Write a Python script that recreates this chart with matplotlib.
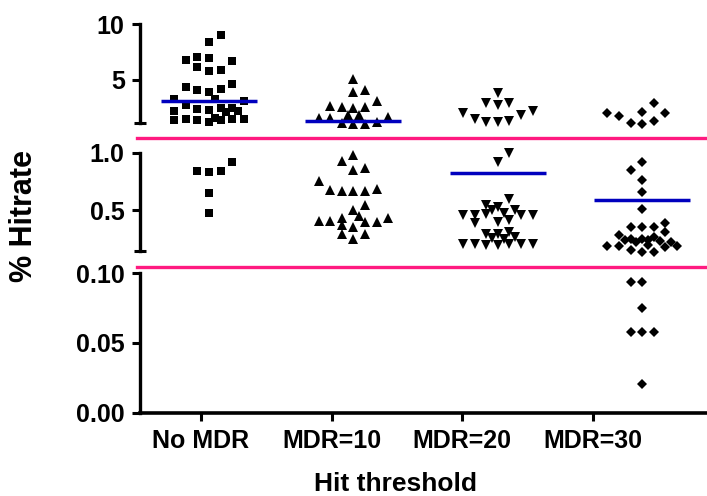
import matplotlib
matplotlib.use("Agg")
import matplotlib.pyplot as plt
from matplotlib.lines import Line2D

plt.rcParams['font.family'] = ['Liberation Sans', 'DejaVu Sans']
plt.rcParams['font.weight'] = 'bold'

# ---------------- data ----------------
categories = ["No MDR", "MDR=10", "MDR=20", "MDR=30"]
x_label = "Hit threshold"
y_label = "% Hitrate"

# values shown in the upper (1-10), middle (0.1-1) and lower (0-0.1) segments
no_mdr_upper = [9.04, 8.44, 6.8, 7.09, 7.0, 6.73, 6.19, 5.83, 5.9, 4.39, 4.1, 3.94, 4.19, 4.6,
                3.26, 3.29, 3.11, 2.24, 2.75, 2.39, 2.3, 2.45, 2.15, 2.45, 2.24,
                1.4, 1.46, 1.4, 1.25, 1.55, 1.4, 1.46, 1.46]
no_mdr_middle = [0.92, 0.843, 0.834, 0.843, 0.646, 0.47]
no_mdr_lower = []

mdr10_upper = [5.06, 3.94, 4.1, 2.66, 2.54, 2.45, 2.6, 3.11, 1.85, 1.85, 1.61, 1.55, 1.64,
               1.1, 1.0, 1.0, 1.25]
mdr10_middle = [0.98, 0.928, 0.85, 0.87, 0.753, 0.675, 0.666, 0.666, 0.666, 0.68, 0.544, 0.5,
                0.448, 0.405, 0.405, 0.433, 0.37, 0.355, 0.398, 0.398, 0.433, 0.289, 0.245, 0.289]
mdr10_lower = []

mdr20_upper = [3.8, 2.9, 2.75, 2.9, 2.0, 1.46, 1.25, 1.25, 1.34, 1.85, 2.21]
mdr20_middle = [1.0, 0.92, 0.596, 0.53, 0.544, 0.457, 0.457, 0.463, 0.5, 0.47, 0.5, 0.457, 0.457,
                0.384, 0.4, 0.413, 0.29, 0.29, 0.31, 0.254, 0.245, 0.268,
                0.204, 0.204, 0.195, 0.195, 0.204, 0.204, 0.204]
mdr20_lower = []

mdr30_upper = [2.96, 2.0, 1.76, 2.15, 2.0, 1.1, 1.04, 1.31]
mdr30_middle = [0.916, 0.85, 0.762, 0.655, 0.509, 0.355, 0.355, 0.355, 0.39, 0.31, 0.282, 0.238,
                0.245, 0.224, 0.245, 0.238, 0.268, 0.23, 0.224, 0.19, 0.19, 0.152, 0.137, 0.195,
                0.137, 0.175, 0.19]
mdr30_lower = [0.0935, 0.0935, 0.0753, 0.0577, 0.0577, 0.0577, 0.0204]

group_means = [3.14, 1.31, 0.82, 0.588]

# horizontal scatter slots (column-scatter layout), one per point above
no_mdr_upper_slot = [1, 0, -2, -1, 0, 2, -1, 0, 1, -2, -1, 0, 1, 2, -3, 0.5, 3, -3, -2, -1, 0, 1, 1.5,
                     2, 2.5, -3, -2, -1, 0, 0.5, 1, 2, 3]
no_mdr_middle_slot = [2, -1, 0, 1, 0, 0]
no_mdr_lower_slot = []
mdr10_upper_slot = [0, 0, 1, -2, -1, 0, 1, 2, -0.5, 0.5, -3, -2, 3, -1, 0, 1, 2]
mdr10_middle_slot = [0, -1, 0, 1, -3, -2, -1, 0, 1, 2, 1, 0, 0.5, -3, -2, -1, -1, 0, 1, 2, 3, -1, 0, 1]
mdr10_lower_slot = []
mdr20_upper_slot = [0, -1, 0, 1, -3, -2, -1, 0, 1, 2, 3]
mdr20_middle_slot = [1, 0, 1, 0, -1, -3, -2, -1, -0.5, 0.5, 1.5, 2, 3, -2, 0, 1, -1, 0, 1, -0.5, 0.5,
                     1.5, -3, -2, -1, 0, 1, 2, 3]
mdr20_lower_slot = []
mdr30_upper_slot = [1, -3, -2, 0, 2, -1, 0, 1]
mdr30_middle_slot = [0, -1, 0, 0, 0, -1, 0, 1, 2, 2, -2, -1.5, -1, -0.5, 0, 0.5, 1, 1.5, 2.5, -3, -2,
                     -1, 0, 0.5, 1, 2, 3]
mdr30_lower_slot = [-1, 0, 0, -1, 0, 1, 0]

groups = [
    (no_mdr_upper, no_mdr_middle, no_mdr_lower, no_mdr_upper_slot, no_mdr_middle_slot, no_mdr_lower_slot, 's', 6.1),
    (mdr10_upper, mdr10_middle, mdr10_lower, mdr10_upper_slot, mdr10_middle_slot, mdr10_lower_slot, '^', 7.2),
    (mdr20_upper, mdr20_middle, mdr20_lower, mdr20_upper_slot, mdr20_middle_slot, mdr20_lower_slot, 'v', 7.2),
    (mdr30_upper, mdr30_middle, mdr30_lower, mdr30_upper_slot, mdr30_middle_slot, mdr30_lower_slot, 'D', 5.4),
]

# ---------------- layout ----------------
W, H = 707, 496
fig = plt.figure(figsize=(W / 100, H / 100), dpi=100)

def fx(px):
    return px / W

def fy(py):
    return 1 - py / H

left, right = 140, 707
seg_px = [(24.3, 123.3), (152.7, 250.7), (273.3, 412.7)]
seg_lim = [(1.1, 10.0), (0.1456, 1.0), (0.0, 0.10)]
seg_ticks = [([5, 10], ["5", "10"]), ([0.5, 1.0], ["0.5", "1.0"]), ([0.0, 0.05, 0.10], ["0.00", "0.05", "0.10"])]

slot_w = 11.6 / 144.4          # slot spacing in x data units
xlim = ((left - 209) / 144.4, (right - 209) / 144.4)
tick_pos = [(201 - 209) / 144.4, (332 - 209) / 144.4, (462 - 209) / 144.4, (593 - 209) / 144.4]
half_mean = 48 / 144.4

axes = []
for (top, bot), lim, (tv, tl) in zip(seg_px, seg_lim, seg_ticks):
    ax = fig.add_axes([fx(left), fy(bot), fx(right - left), (bot - top) / H])
    ax.set_xlim(*xlim)
    ax.set_ylim(*lim)
    ax.patch.set_alpha(0)
    for s in ['top', 'right', 'bottom']:
        ax.spines[s].set_visible(False)
    ax.spines['left'].set_linewidth(2.4)
    ax.set_yticks(tv)
    ax.set_yticklabels(tl, fontsize=18, fontweight='bold')
    ax.tick_params(axis='y', direction='out', length=6, width=2.2, pad=5)
    ax.set_yticks([lim[0], lim[1]], minor=True)
    ax.tick_params(axis='y', which='minor', direction='inout', length=9, width=2.2)
    ax.set_xticks([])
    axes.append(ax)

ax_bot = axes[2]
ax_bot.spines['bottom'].set_visible(True)
ax_bot.spines['bottom'].set_linewidth(2.6)
ax_bot.set_xticks(tick_pos)
ax_bot.set_xticklabels(categories, fontsize=18, fontweight='bold')
ax_bot.tick_params(axis='x', direction='out', length=6, width=2.2, pad=6)

# points
for gi, (up, mid, low, sup, smid, slow, mk, ms) in enumerate(groups):
    for ax, vals, slots in zip(axes, (up, mid, low), (sup, smid, slow)):
        if vals:
            xs = [gi + s * slot_w for s in slots]
            ax.plot(xs, vals, linestyle='none', marker=mk, markersize=ms,
                    color='black', markeredgewidth=0, clip_on=False, zorder=3)

# mean lines
for gi, m in enumerate(group_means):
    ax = axes[0] if m >= seg_lim[0][0] else (axes[1] if m >= seg_lim[2][1] else axes[2])
    ax.plot([gi - half_mean, gi + half_mean], [m, m], color='#0000BE', linewidth=2.5,
            solid_capstyle='butt', clip_on=False, zorder=4)

# segment break lines
for py in (137.7, 266.7):
    fig.add_artist(Line2D([fx(137), 1.0], [fy(py), fy(py)], color='#FF1A80', linewidth=2.4))

fig.text(fx(395), fy(491), x_label, ha='center', va='baseline', fontsize=19, fontweight='bold')
fig.text(fx(24), fy(216), y_label, ha='center', va='center', rotation=90, fontsize=22, fontweight='bold')

fig.savefig("out.png", dpi=100)
